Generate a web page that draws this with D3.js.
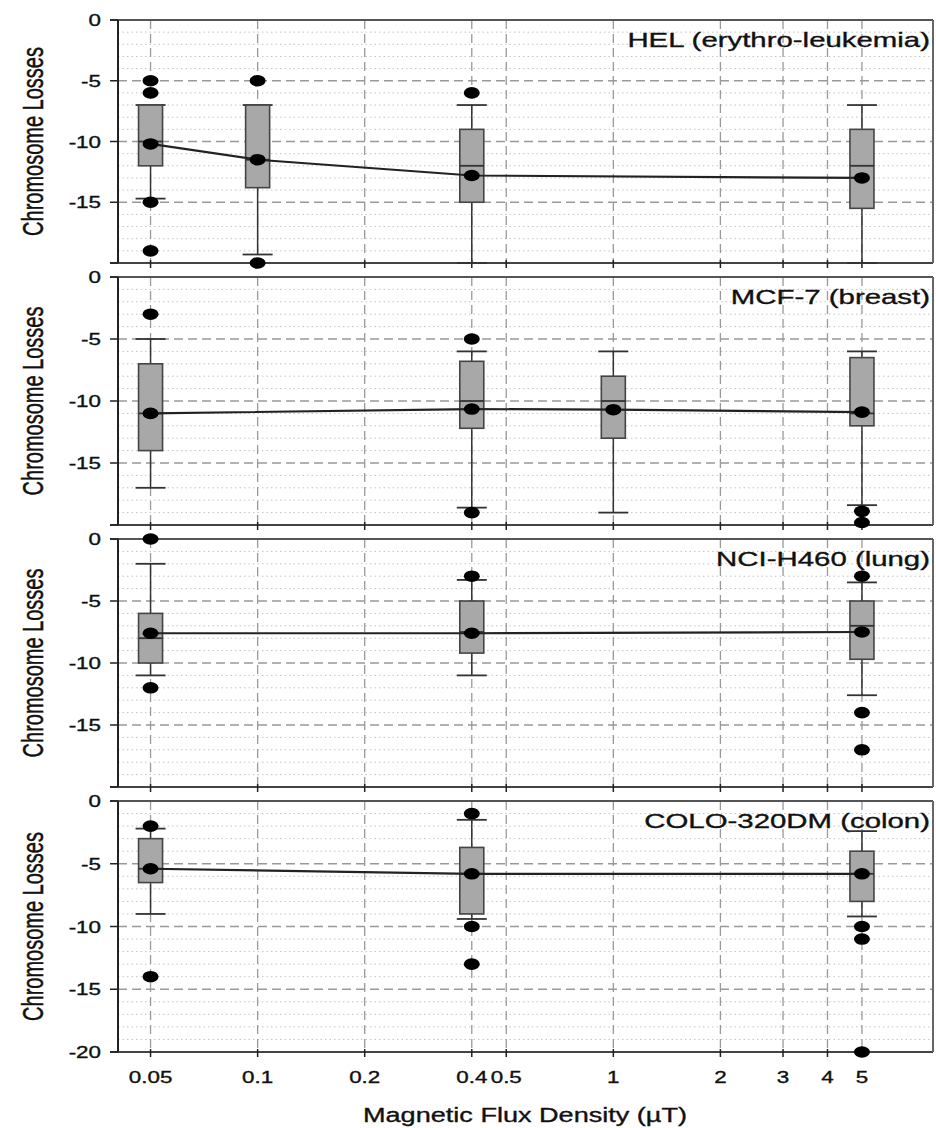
<!DOCTYPE html>
<html><head><meta charset="utf-8">
<script src="https://cdn.jsdelivr.net/npm/d3@7"></script>
<style>body{margin:0;background:#fff} text{font-family:"Liberation Sans",Arial,sans-serif;fill:#111;stroke:#111;stroke-width:0.35px}</style>
</head><body><svg id="c" width="936" height="1128"></svg>
<script>
// ---------- data ----------
const xTicks = [0.05, 0.1, 0.2, 0.4, 0.5, 1, 2, 3, 4, 5];
const xTickLabels = ["0.05", "0.1", "0.2", "0.4", "0.5", "1", "2", "3", "4", "5"];
const yTicks = [0, -5, -10, -15, -20];
const yTickLabels = ["0", "-5", "-10", "-15", "-20"];
const panelNames = ["HEL (erythro-leukemia)", "MCF-7 (breast)", "NCI-H460 (lung)", "COLO-320DM (colon)"];

const helX = [0.05, 0.1, 0.4, 5];
const helWhiskerHigh = [-7, -7, -7, -7];
const helQ3 = [-7, -7, -9, -9];
const helMedian = [-10, -11.5, -12, -12];
const helQ1 = [-12, -13.8, -15, -15.5];
const helWhiskerLow = [-14.7, -19.3, -20, -20];
const helMean = [-10.2, -11.5, -12.8, -13];
const helOutliers = [[-5, -6, -15, -19], [-5, -20], [-6], []];

const mcfX = [0.05, 0.4, 1, 5];
const mcfWhiskerHigh = [-5, -6, -6, -6];
const mcfQ3 = [-7, -6.8, -8, -6.5];
const mcfMedian = [-11, -10, -10, -11];
const mcfQ1 = [-14, -12.2, -13, -12];
const mcfWhiskerLow = [-17, -18.6, -19, -18.4];
const mcfMean = [-11, -10.65, -10.7, -10.9];
const mcfOutliers = [[-3], [-5, -19], [], [-18.9, -19.8]];

const nciX = [0.05, 0.4, 5];
const nciWhiskerHigh = [-2, -3.3, -3.5];
const nciQ3 = [-6, -5, -5];
const nciMedian = [-8, -7.5, -7];
const nciQ1 = [-10, -9.2, -9.7];
const nciWhiskerLow = [-11, -11, -12.6];
const nciMean = [-7.6, -7.6, -7.5];
const nciOutliers = [[0, -12], [-3], [-3, -14, -17]];

const coloX = [0.05, 0.4, 5];
const coloWhiskerHigh = [-2.2, -1.5, -2.4];
const coloQ3 = [-3, -3.7, -4];
const coloMedian = [-5.4, -5.8, -5.8];
const coloQ1 = [-6.5, -9, -8];
const coloWhiskerLow = [-9, -9.4, -9.2];
const coloMean = [-5.4, -5.8, -5.8];
const coloOutliers = [[-2, -14], [-1, -10, -13], [-10, -11, -20]];

// ---------- build ----------
const series = [
  {x: helX, wh: helWhiskerHigh, q3: helQ3, med: helMedian, q1: helQ1, wl: helWhiskerLow, mean: helMean, out: helOutliers},
  {x: mcfX, wh: mcfWhiskerHigh, q3: mcfQ3, med: mcfMedian, q1: mcfQ1, wl: mcfWhiskerLow, mean: mcfMean, out: mcfOutliers},
  {x: nciX, wh: nciWhiskerHigh, q3: nciQ3, med: nciMedian, q1: nciQ1, wl: nciWhiskerLow, mean: nciMean, out: nciOutliers},
  {x: coloX, wh: coloWhiskerHigh, q3: coloQ3, med: coloMedian, q1: coloQ1, wl: coloWhiskerLow, mean: coloMean, out: coloOutliers}
];

const SX = 1.4;           // horizontal stretch of the original lettering
const L = 118, R = 933;
const tops = [20, 277, 539, 801];
const bottoms = [263, 525, 787, 1052];
const svg = d3.select("#c");
const x = d3.scaleLog().domain([0.0405, 7.92]).range([L, R]);
const minorY = d3.range(-19, 0, 1).filter(v => v % 5 !== 0);

function sText(g, px, py, str, size, anchor, sx) {
  const gg = g.append("g").attr("transform", `translate(${px},${py})`);
  return gg.append("text").attr("transform", `scale(${sx || SX},1)`)
    .attr("text-anchor", anchor).attr("font-size", size).text(str);
}

series.forEach((s, i) => {
  const y = d3.scaleLinear().domain([-20, 0]).range([bottoms[i], tops[i]]);
  const g = svg.append("g");
  // minor dotted grid
  g.selectAll(".mny").data(minorY).join("line")
    .attr("x1", L).attr("x2", R).attr("y1", d => y(d)).attr("y2", d => y(d))
    .attr("stroke", "#c4c4c4").attr("stroke-width", 1).attr("stroke-dasharray", "1.5,3");
  // major dashed grid
  g.selectAll(".mjy").data([-5, -10, -15]).join("line")
    .attr("x1", L).attr("x2", R).attr("y1", d => y(d)).attr("y2", d => y(d))
    .attr("stroke", "#999").attr("stroke-width", 1.3).attr("stroke-dasharray", "9,5");
  g.selectAll(".mjx").data(xTicks).join("line")
    .attr("x1", d => x(d)).attr("x2", d => x(d)).attr("y1", tops[i]).attr("y2", bottoms[i])
    .attr("stroke", "#999").attr("stroke-width", 1.3).attr("stroke-dasharray", "9,5");

  // frame
  g.append("line").attr("x1", L - 8).attr("x2", R).attr("y1", tops[i]).attr("y2", tops[i]).attr("stroke", "#555").attr("stroke-width", 2);
  g.append("line").attr("x1", L - 8).attr("x2", R).attr("y1", bottoms[i]).attr("y2", bottoms[i]).attr("stroke", "#444").attr("stroke-width", 2);
  g.append("line").attr("x1", R).attr("x2", R).attr("y1", tops[i]).attr("y2", bottoms[i]).attr("stroke", "#666").attr("stroke-width", 2);
  g.append("line").attr("x1", L).attr("x2", L).attr("y1", tops[i]).attr("y2", bottoms[i]).attr("stroke", "#222").attr("stroke-width", 2);
  // y ticks
  g.selectAll(".yt").data(yTicks).join("line")
    .attr("x1", L - 8).attr("x2", L).attr("y1", d => y(d)).attr("y2", d => y(d))
    .attr("stroke", "#222").attr("stroke-width", 1.5);
  // x ticks at bottom
  g.selectAll(".xt").data(xTicks).join("line")
    .attr("x1", d => x(d)).attr("x2", d => x(d)).attr("y1", bottoms[i] - 3).attr("y2", bottoms[i] + 5)
    .attr("stroke", "#222").attr("stroke-width", 1.5);

  // y tick labels
  const nLab = i === 3 ? 5 : 4;
  yTicks.slice(0, nLab).forEach((t, k) => {
    sText(g, 101, y(t) + 6, yTickLabels[k], 16, "end");
  });
  // y label
  g.append("g").attr("transform", `translate(43,${(tops[i] + bottoms[i]) / 2}) scale(1.45,1) rotate(-90)`)
    .append("text").attr("text-anchor", "middle").attr("font-size", 20).text("Chromosome Losses");
  // title
  sText(g, 930, tops[i] + 27, panelNames[i], 21, "end");

  // boxes
  const idx = d3.range(s.x.length);
  const bw = 24, cw = 30;
  g.selectAll(".wh").data(idx).join("line")
    .attr("x1", k => x(s.x[k])).attr("x2", k => x(s.x[k]))
    .attr("y1", k => y(s.wh[k])).attr("y2", k => y(s.wl[k]))
    .attr("stroke", "#333").attr("stroke-width", 1.5);
  g.selectAll(".caph").data(idx).join("line")
    .attr("x1", k => x(s.x[k]) - cw / 2).attr("x2", k => x(s.x[k]) + cw / 2)
    .attr("y1", k => y(s.wh[k])).attr("y2", k => y(s.wh[k]))
    .attr("stroke", "#333").attr("stroke-width", 1.8);
  g.selectAll(".capl").data(idx).join("line")
    .attr("x1", k => x(s.x[k]) - cw / 2).attr("x2", k => x(s.x[k]) + cw / 2)
    .attr("y1", k => y(s.wl[k])).attr("y2", k => y(s.wl[k]))
    .attr("stroke", "#333").attr("stroke-width", 1.8);
  g.selectAll(".box").data(idx).join("rect")
    .attr("x", k => x(s.x[k]) - bw / 2).attr("width", bw)
    .attr("y", k => y(s.q3[k])).attr("height", k => y(s.q1[k]) - y(s.q3[k]))
    .attr("fill", "#a8a8a8").attr("stroke", "#444").attr("stroke-width", 1.6);
  g.selectAll(".med").data(idx).join("line")
    .attr("x1", k => x(s.x[k]) - bw / 2).attr("x2", k => x(s.x[k]) + bw / 2)
    .attr("y1", k => y(s.med[k])).attr("y2", k => y(s.med[k]))
    .attr("stroke", "#333").attr("stroke-width", 1.8);
  // mean line
  g.append("path").datum(idx)
    .attr("d", d3.line().x(k => x(s.x[k])).y(k => y(s.mean[k])))
    .attr("fill", "none").attr("stroke", "#222").attr("stroke-width", 2.2);
  // mean dots
  g.selectAll(".mn").data(idx).join("ellipse")
    .attr("cx", k => x(s.x[k])).attr("cy", k => y(s.mean[k]))
    .attr("rx", 8).attr("ry", 5.8).attr("fill", "#000");
  // outliers
  const outs = [];
  s.out.forEach((arr, k) => arr.forEach(v => outs.push({xv: s.x[k], v})));
  g.selectAll(".out").data(outs).join("ellipse")
    .attr("cx", d => x(d.xv)).attr("cy", d => y(d.v))
    .attr("rx", 8).attr("ry", 5.8).attr("fill", "#000");
});

// x tick labels
xTicks.forEach((t, k) => sText(svg, x(t), 1083, xTickLabels[k], 16, "middle"));
// x axis title
sText(svg, 525, 1122, "Magnetic Flux Density (\u00b5T)", 21, "middle", 1.29);
</script></body></html>
